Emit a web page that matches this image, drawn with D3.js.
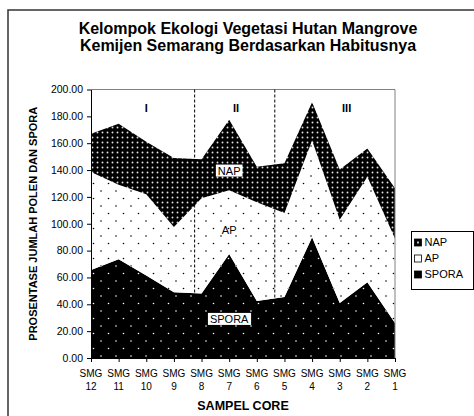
<!DOCTYPE html>
<html>
<head>
<meta charset="utf-8">
<script src="https://cdn.jsdelivr.net/npm/d3@7"></script>
<style>
body { margin: 0; background: #fff; }
svg text { font-family: "Liberation Sans", Arial, sans-serif; fill: #000; }
</style>
</head>
<body>
<svg width="474" height="416"></svg>
<script>

// data
var samples = ["12", "11", "10", "9", "8", "7", "6", "5", "4", "3", "2", "1"];
var spora = [65.5, 73.5, 61.5, 49, 48, 77.5, 42.5, 45.5, 90, 41, 56.5, 26];
var ap    = [73, 55.5, 60.5, 48.5, 71, 47.5, 73.5, 62.5, 72, 62, 78.5, 63];
var nap   = [28.5, 45.5, 39, 51.5, 29, 52.5, 26.5, 37, 28.5, 37.5, 21, 37.5];
var seriesNames = ["SPORA", "AP", "NAP"];
var legendNames = ["NAP", "AP", "SPORA"];
var yTicks = [0, 20, 40, 60, 80, 100, 120, 140, 160, 180, 200];
var zones = ["I", "II", "III"];

var svg = d3.select("svg");
var defs = svg.append("defs");

// pola titik
function dotPattern(id, size, bg, fg, dots, r) {
	var p = defs.append("pattern")
		.attr("id", id)
		.attr("patternUnits", "userSpaceOnUse")
		.attr("width", size)
		.attr("height", size);
	p.append("rect").attr("width", size).attr("height", size).attr("fill", bg);
	dots.forEach(function(d){
		p.append("circle").attr("cx", d[0]).attr("cy", d[1]).attr("r", r).attr("fill", fg);
	});
}
dotPattern("pNAP", 5, "#000", "#e0e0e0", [[2.5, 2.5]], 0.95);
dotPattern("pAP", 15, "#fff", "#000", [[3.5, 3.5], [11, 11]], 0.8);
dotPattern("pSPORA", 15, "#000", "#fff", [[3.5, 3.5], [11, 11]], 0.8);

// bingkai luar
svg.append("rect")
	.attr("x", 8).attr("y", 10)
	.attr("width", 480).attr("height", 420)
	.attr("fill", "none")
	.attr("stroke", "#333")
	.attr("stroke-width", 1.5);

// judul
var title = svg.append("text")
	.attr("text-anchor", "middle")
	.attr("font-weight", "bold")
	.attr("font-size", "16px");
title.append("tspan").attr("x", 248).attr("y", 34).text("Kelompok Ekologi Vegetasi Hutan Mangrove");
title.append("tspan").attr("x", 248).attr("y", 51).text("Kemijen Semarang Berdasarkan Habitusnya");

var plotL = 91, plotR = 395, plotT = 89.5, plotB = 358;

var x = d3.scalePoint().domain(samples).range([plotL, plotR]);
var y = d3.scaleLinear().domain([0, 200]).range([plotB, plotT]);

var rows = samples.map(function(s, i){
	return { s: s, SPORA: spora[i], AP: ap[i], NAP: nap[i] };
});
var stacked = d3.stack().keys(seriesNames)(rows);

var area = d3.area()
	.x(function(d){ return x(d.data.s); })
	.y0(function(d){ return y(d[0]); })
	.y1(function(d){ return y(d[1]); });

svg.append("g")
	.selectAll("path")
	.data(stacked)
	.enter()
	.append("path")
	.attr("d", area)
	.attr("fill", function(d){ return "url(#p" + d.key + ")"; });

// garis tepi plot (atas & kanan)
svg.append("path")
	.attr("d", "M" + plotL + "," + plotT + "H" + plotR + "V" + plotB)
	.attr("fill", "none")
	.attr("stroke", "#808080")
	.attr("stroke-width", 1);

// garis pembagi zona
var step = x.step();
[3.75, 6.65].forEach(function(i){
	svg.append("line")
		.attr("x1", plotL + i * step).attr("x2", plotL + i * step)
		.attr("y1", plotT).attr("y2", plotB)
		.attr("stroke", "#000")
		.attr("stroke-dasharray", "3,2");
});

// label zona
var zoneAt = [2, 5.25, 9.25];
svg.selectAll(".zone")
	.data(zones)
	.enter()
	.append("text")
	.attr("class", "zone")
	.attr("x", function(d, i){ return plotL + zoneAt[i] * step; })
	.attr("y", y(183))
	.attr("text-anchor", "middle")
	.attr("font-weight", "bold")
	.attr("font-size", "11px")
	.text(function(d){ return d; });

// label seri di dalam grafik
var inLabels = [
	{ name: "NAP", v: 139.5, box: true },
	{ name: "AP", v: 95.5, box: false },
	{ name: "SPORA", v: 29, box: true }
];
inLabels.forEach(function(d){
	var cx = x("7");
	var g = svg.append("g").attr("transform", "translate(" + cx + "," + y(d.v) + ")");
	var t = g.append("text")
		.attr("text-anchor", "middle")
		.attr("dy", "0.35em")
		.attr("font-size", "11px")
		.text(d.name);
	if (d.box) {
		var b = t.node().getBBox();
		g.insert("rect", "text")
			.attr("x", b.x - 2).attr("y", b.y)
			.attr("width", b.width + 4).attr("height", b.height)
			.attr("fill", "#fff");
	}
});

// sumbu Y
var yAxis = svg.append("g")
	.attr("transform", "translate(" + plotL + ",0)")
	.call(d3.axisLeft(y).tickValues(yTicks).tickFormat(d3.format(".2f")).tickSize(4).tickSizeOuter(0).tickPadding(4));
yAxis.selectAll("text").attr("font-size", "10.5px").attr("font-family", null);
yAxis.selectAll("line, path").attr("stroke", "#000");

// sumbu X
var xAxis = svg.append("g")
	.attr("transform", "translate(0," + plotB + ")")
	.call(d3.axisBottom(x).tickFormat("").tickSize(4).tickSizeOuter(0));
xAxis.selectAll("line, path").attr("stroke", "#000");

var xl = svg.append("g").selectAll("text")
	.data(samples)
	.enter()
	.append("text")
	.attr("text-anchor", "middle")
	.attr("font-size", "10px");
xl.append("tspan").attr("x", function(d){ return x(d); }).attr("y", 377).text("SMG");
xl.append("tspan").attr("x", function(d){ return x(d); }).attr("y", 390).text(function(d){ return d; });

// judul sumbu
svg.append("text")
	.attr("x", 243).attr("y", 410)
	.attr("text-anchor", "middle")
	.attr("font-weight", "bold")
	.attr("font-size", "12.5px")
	.text("SAMPEL CORE");

svg.append("text")
	.attr("transform", "translate(37," + (plotT + plotB) / 2 + ") rotate(-90)")
	.attr("text-anchor", "middle")
	.attr("font-weight", "bold")
	.attr("font-size", "11px")
	.text("PROSENTASE JUMLAH POLEN DAN SPORA");

// legenda
var lg = svg.append("g").attr("transform", "translate(411.5,231.5)");
lg.append("rect")
	.attr("width", 62).attr("height", 58)
	.attr("fill", "#fff")
	.attr("stroke", "#000")
	.attr("stroke-width", 1);

var item = lg.selectAll(".item")
	.data(legendNames)
	.enter()
	.append("g")
	.attr("transform", function(d, i){ return "translate(3," + (11 + i * 16) + ")"; });

item.append("rect")
	.attr("x", 0).attr("y", -3.5)
	.attr("width", 7).attr("height", 7)
	.attr("fill", function(d){ return d == "AP" ? "#fff" : "#000"; })
	.attr("stroke", "#000")
	.attr("stroke-width", 0.8);
item.filter(function(d){ return d == "NAP"; })
	.append("rect")
	.attr("x", 2.5).attr("y", -1).attr("width", 2).attr("height", 2)
	.attr("fill", "#bbb");
item.append("text")
	.attr("x", 10)
	.attr("dy", "0.35em")
	.attr("font-size", "11px")
	.text(function(d){ return d; });

</script>
</body>
</html>
